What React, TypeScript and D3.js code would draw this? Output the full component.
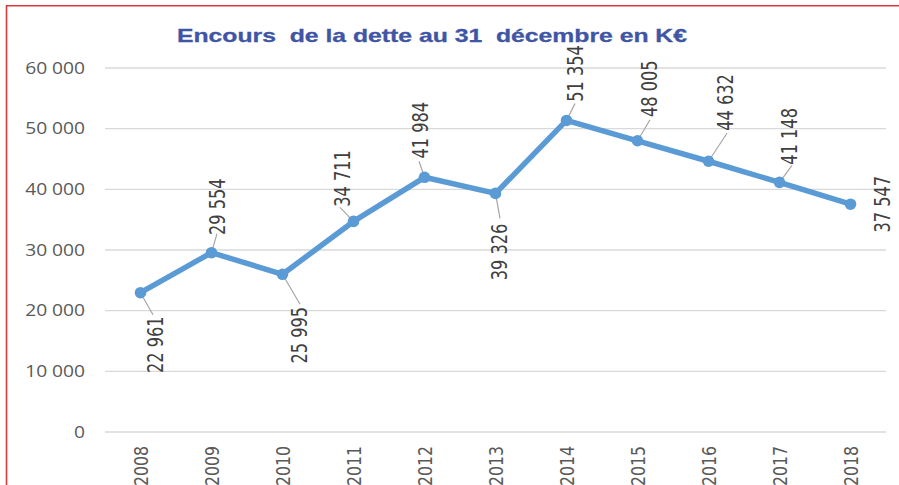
import React from "react";
import * as d3 from "d3";

const years = ["2008","2009","2010","2011","2012","2013","2014","2015","2016","2017","2018"];
const debt = [22961, 29554, 25995, 34711, 41984, 39326, 51354, 48005, 44632, 41148, 37547];
const yTicks = [0, 10000, 20000, 30000, 40000, 50000, 60000];
const title = "Encours  de la dette au 31  décembre en K€";

// label placement (layout, relative to each point): [dx, dy] of label centre, [lx, ly] of leader end (null = none)
const labelOffsets: [number, number][] = [
  [15.5, 52], [6.5, -46], [17.5, 61], [-10.5, -43], [-3.5, -47], [4.5, 58.6],
  [9.5, -47], [12.5, -52], [17.5, -58.7], [10.5, -46], [32.5, 0],
];
const leaderEnds: ([number, number] | null)[] = [
  [12.5, 22], [5.5, -19], [17.5, 30], [-13.5, -14], [-5.5, -16], [4.5, 25],
  [8.5, -17], [12.5, -21], [18.5, -28], [12.5, -17], null,
];

const W = 899, H = 485;
const plotLeft = 105, plotRight = 886, plotTop = 68, plotBottom = 432;
const SX = 1.15;
const fmt = (v: number) => d3.format(",")(v).replace(/,/g, " ");

export default function App() {
  const x = d3.scaleBand<string>().domain(years).range([plotLeft, plotRight]);
  const cx = (yr: string) => (x(yr) as number) + x.bandwidth() / 2;
  const y = d3.scaleLinear().domain([0, 60000]).range([plotBottom, plotTop]);
  const line = d3.line<number>().x((_, i) => cx(years[i])).y((d) => y(d));

  return (
    <svg width={W} height={H} style={{ position: "absolute", left: 0, top: 0, background: "#fff" }}>
      <rect x={0} y={0} width={W} height={H} fill="#fff" />
      {/* red frame */}
      <line x1={6.5} x2={W} y1={5.8} y2={5.8} stroke="#d9393b" strokeWidth={1.6} />
      <line x1={6.5} x2={6.5} y1={5} y2={H} stroke="#d9393b" strokeWidth={1.6} />

      <text
        x={177}
        y={42}
        textLength={510}
        lengthAdjust="spacingAndGlyphs"
        fontFamily="'Liberation Sans', Arial, sans-serif"
        fontWeight="bold"
        fontSize={18.5}
        fill="#3f55a5"
        stroke="#3f55a5"
        strokeWidth={0.3}
        style={{ whiteSpace: "pre" }}
      >
        {title}
      </text>

      {yTicks.map((t) => (
        <g key={t}>
          <line x1={plotLeft} x2={plotRight} y1={y(t)} y2={y(t)} stroke="#d9d9d9" strokeWidth={1.3} />
          <text
            transform={`translate(85,${y(t)}) scale(1.2,1)`}
            textAnchor="end"
            dy="0.36em"
            fontFamily="'Open Sans', sans-serif"
            fontSize={16}
            fill="#595959"
          >
            {fmt(t)}
          </text>
        </g>
      ))}

      {years.map((yr) => (
        <text
          key={yr}
          transform={`translate(${cx(yr)},446) scale(${SX},1) rotate(-90)`}
          textAnchor="end"
          dy="0.36em"
          fontFamily="'Liberation Sans Narrow', 'DejaVu Sans Condensed', sans-serif"
          fontSize={17.5}
          fill="#595959"
        >
          {yr}
        </text>
      ))}

      {debt.map((v, i) => {
        const le = leaderEnds[i];
        if (!le) return null;
        const px = cx(years[i]), py = y(v);
        return <line key={"l" + i} x1={px} y1={py} x2={px + le[0]} y2={py + le[1]} stroke="#a6a6a6" strokeWidth={1.2} />;
      })}

      <path d={line(debt) || ""} fill="none" stroke="#5b9bd5" strokeWidth={5.5} strokeLinejoin="round" strokeLinecap="round" />
      {debt.map((v, i) => (
        <circle key={"c" + i} cx={cx(years[i])} cy={y(v)} r={5.8} fill="#5b9bd5" />
      ))}

      {debt.map((v, i) => {
        const [dx, dy] = labelOffsets[i];
        const px = cx(years[i]) + dx, py = y(v) + dy;
        return (
          <text
            key={"t" + i}
            transform={`translate(${px},${py}) scale(${SX},1) rotate(-90)`}
            textAnchor="middle"
            dy="0.36em"
            fontFamily="'Liberation Sans Narrow', 'DejaVu Sans Condensed', sans-serif"
            fontSize={18}
            fill="#404040"
          >
            {fmt(v)}
          </text>
        );
      })}
    </svg>
  );
}
